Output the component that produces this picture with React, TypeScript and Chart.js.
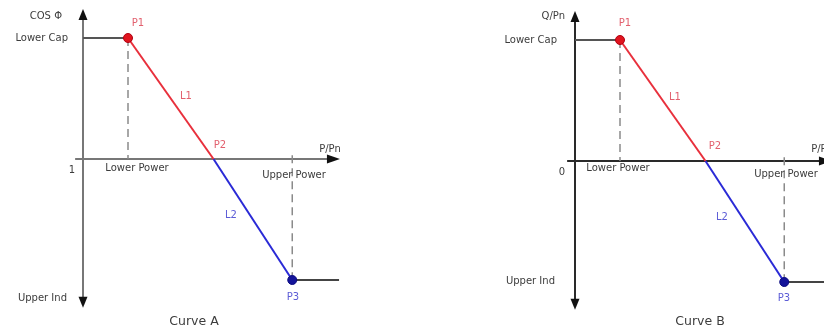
import React, { useEffect, useRef } from "react";
import { Chart, registerables } from "chart.js";
Chart.register(...registerables);

// ---- data (P/Pn on x, normalised set-point on y) ----
const curveNames = ["Curve A", "Curve B"];
const yAxisTitles = ["COS Φ", "Q/Pn"];
const yOriginLabels = ["1", "0"];
const xAxisTitle = "P/Pn";
const yTickLabels = ["Lower Cap", "Upper Ind"];
const xTickLabels = ["Lower Power", "Upper Power"];
const pointNames = ["P1", "P2", "P3"];
const lineNames = ["L1", "L2"];
const pointX = [0.2, 0.58, 0.93]; // Lower Power, crossing, Upper Power
const pointY = [1, 0, -1]; // Lower Cap, origin, Upper Ind
const axisStartX = -0.035;
const curveEndX = 1.138;
const axisEndX = 1.142;
const axisTopY = 1.24;
const axisBottomY = -1.23;

type Panel = {
  ox: number; // origin pixel in canvas
  oy: number;
  axisColor: string;
  labels: { text: string; px: number; py: number; align: CanvasTextAlign; color: string; size: number }[];
};

const FONT = "'DejaVu Sans', sans-serif";
const TXT = "#3c3c3c";
const RED_T = "#e2606e";
const BLUE_T = "#5c5cd6";
const PX_X = 225;
const PX_Y = 121;

function makePanels(): Panel[] {
  return [
    {
      ox: 83,
      oy: 159,
      axisColor: "#777777",
      labels: [
        { text: yAxisTitles[0], px: 62, py: 16, align: "right", color: TXT, size: 10 },
        { text: yTickLabels[0], px: 68, py: 38, align: "right", color: TXT, size: 10 },
        { text: yOriginLabels[0], px: 72, py: 170, align: "center", color: TXT, size: 10 },
        { text: yTickLabels[1], px: 67, py: 298, align: "right", color: TXT, size: 10 },
        { text: pointNames[0], px: 138, py: 23, align: "center", color: RED_T, size: 10 },
        { text: lineNames[0], px: 186, py: 96, align: "center", color: RED_T, size: 10 },
        { text: pointNames[1], px: 220, py: 145, align: "center", color: RED_T, size: 10 },
        { text: lineNames[1], px: 231, py: 215, align: "center", color: BLUE_T, size: 10 },
        { text: pointNames[2], px: 293, py: 297, align: "center", color: BLUE_T, size: 10 },
        { text: xAxisTitle, px: 330, py: 149, align: "center", color: TXT, size: 10 },
        { text: xTickLabels[0], px: 137, py: 168, align: "center", color: TXT, size: 10 },
        { text: xTickLabels[1], px: 294, py: 175, align: "center", color: TXT, size: 10 },
        { text: curveNames[0], px: 194, py: 322, align: "center", color: TXT, size: 12.5 },
      ],
    },
    {
      ox: 575 - 412,
      oy: 161,
      axisColor: "#2a2a2a",
      labels: [
        { text: yAxisTitles[1], px: 565 - 412, py: 16, align: "right", color: TXT, size: 10 },
        { text: yTickLabels[0], px: 557 - 412, py: 40, align: "right", color: TXT, size: 10 },
        { text: yOriginLabels[1], px: 562 - 412, py: 172, align: "center", color: TXT, size: 10 },
        { text: yTickLabels[1], px: 555 - 412, py: 281, align: "right", color: TXT, size: 10 },
        { text: pointNames[0], px: 625 - 412, py: 23, align: "center", color: RED_T, size: 10 },
        { text: lineNames[0], px: 675 - 412, py: 97, align: "center", color: RED_T, size: 10 },
        { text: pointNames[1], px: 715 - 412, py: 146, align: "center", color: RED_T, size: 10 },
        { text: lineNames[1], px: 722 - 412, py: 217, align: "center", color: BLUE_T, size: 10 },
        { text: pointNames[2], px: 784 - 412, py: 298, align: "center", color: BLUE_T, size: 10 },
        { text: xAxisTitle, px: 822 - 412, py: 149, align: "center", color: TXT, size: 10 },
        { text: xTickLabels[0], px: 618 - 412, py: 168, align: "center", color: TXT, size: 10 },
        { text: xTickLabels[1], px: 786 - 412, py: 174, align: "center", color: TXT, size: 10 },
        { text: curveNames[1], px: 700 - 412, py: 322, align: "center", color: TXT, size: 12.5 },
      ],
    },
  ];
}

function PanelChart({ panel }: { panel: Panel }) {
  const ref = useRef<HTMLCanvasElement | null>(null);
  useEffect(() => {
    if (!ref.current) return;
    const W = 412;
    const H = 331;
    const xmin = -panel.ox / PX_X;
    const xmax = (W - panel.ox) / PX_X;
    const ymax = panel.oy / PX_Y;
    const ymin = -(H - panel.oy) / PX_Y;

    const axesPlugin = {
      id: "axesPlugin",
      beforeDatasetsDraw(chart: any) {
        const ctx = chart.ctx;
        const sx = chart.scales.x;
        const sy = chart.scales.y;
        const x0 = sx.getPixelForValue(0);
        const y0 = sy.getPixelForValue(0);
        const yTop = sy.getPixelForValue(axisTopY);
        const yBot = sy.getPixelForValue(axisBottomY);
        const xL = sx.getPixelForValue(axisStartX);
        const xR = sx.getPixelForValue(axisEndX);
        ctx.save();
        ctx.strokeStyle = panel.axisColor;
        ctx.lineWidth = 2;
        ctx.beginPath();
        ctx.moveTo(x0, yTop + 8);
        ctx.lineTo(x0, yBot - 8);
        ctx.moveTo(xL, y0);
        ctx.lineTo(xR - 10, y0);
        ctx.stroke();
        ctx.fillStyle = "#111111";
        ctx.beginPath();
        ctx.moveTo(x0, yTop);
        ctx.lineTo(x0 - 4.5, yTop + 11);
        ctx.lineTo(x0 + 4.5, yTop + 11);
        ctx.closePath();
        ctx.fill();
        ctx.beginPath();
        ctx.moveTo(x0, yBot);
        ctx.lineTo(x0 - 4.5, yBot - 11);
        ctx.lineTo(x0 + 4.5, yBot - 11);
        ctx.closePath();
        ctx.fill();
        ctx.beginPath();
        ctx.moveTo(xR, y0);
        ctx.lineTo(xR - 13, y0 - 4.5);
        ctx.lineTo(xR - 13, y0 + 4.5);
        ctx.closePath();
        ctx.fill();
        ctx.restore();
      },
      afterDatasetsDraw(chart: any) {
        const ctx = chart.ctx;
        ctx.save();
        ctx.textBaseline = "middle";
        for (const l of panel.labels) {
          ctx.font = `${l.size}px ${FONT}`;
          ctx.fillStyle = l.color;
          ctx.textAlign = l.align;
          ctx.fillText(l.text, l.px, l.py);
        }
        ctx.restore();
      },
    };

    const seg = (pts: { x: number; y: number }[], color: string, width: number, dash: number[] = []) => ({
      data: pts,
      showLine: true,
      borderColor: color,
      borderWidth: width,
      borderDash: dash,
      pointRadius: 0,
      fill: false,
      clip: false,
    });

    const chart = new Chart(ref.current, {
      type: "scatter",
      data: {
        datasets: [
          {
            data: [
              { x: pointX[0], y: pointY[0] },
              { x: pointX[2], y: pointY[2] },
            ],
            showLine: false,
            pointRadius: 4.5,
            pointBackgroundColor: ["#e0141e", "#14149a"],
            pointBorderColor: ["#b00010", "#0a0a80"],
            pointBorderWidth: 1,
          } as any,
          seg([{ x: pointX[0], y: pointY[0] }, { x: pointX[1], y: pointY[1] }], "#e8303c", 2),
          seg([{ x: pointX[1], y: pointY[1] }, { x: pointX[2], y: pointY[2] }], "#2a2ad6", 2),
          seg([{ x: 0, y: pointY[0] }, { x: pointX[0], y: pointY[0] }], "#555555", 2),
          seg([{ x: pointX[2], y: pointY[2] }, { x: curveEndX, y: pointY[2] }], "#444444", 2),
          seg([{ x: pointX[0], y: pointY[0] }, { x: pointX[0], y: 0 }], "#8a8a8a", 1.5, [8, 5]),
          seg([{ x: pointX[2], y: 0.03 }, { x: pointX[2], y: pointY[2] }], "#8a8a8a", 1.5, [8, 5]),
        ],
      },
      options: {
        responsive: false,
        animation: false,
        devicePixelRatio: 1,
        events: [],
        layout: { padding: 0, autoPadding: false },
        plugins: { legend: { display: false }, tooltip: { enabled: false }, title: { display: false } },
        scales: {
          x: { type: "linear", display: false, min: xmin, max: xmax },
          y: { type: "linear", display: false, min: ymin, max: ymax },
        },
      },
      plugins: [axesPlugin],
    });
    return () => chart.destroy();
  }, [panel]);
  return <canvas ref={ref} width={412} height={331} style={{ display: "block" }} />;
}

const panels = makePanels();

export default function App() {
  return (
    <div style={{ position: "absolute", left: 0, top: 0, width: 824, height: 331, display: "flex", background: "#ffffff" }}>
      <PanelChart panel={panels[0]} />
      <PanelChart panel={panels[1]} />
    </div>
  );
}
